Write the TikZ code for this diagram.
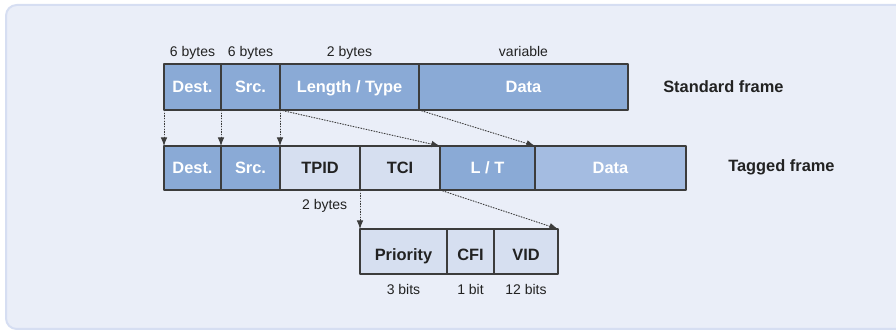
\documentclass[tikz,border=0pt]{standalone}
\usepackage{fontspec}
\setmainfont{Liberation Sans}
\usetikzlibrary{positioning,arrows.meta}
\definecolor{fdark}{HTML}{8AAAD6}
\definecolor{fmid}{HTML}{A4BCE1}
\definecolor{flight}{HTML}{D6DFF0}
\definecolor{bgfill}{HTML}{EAEEF8}
\definecolor{bgline}{HTML}{D6DEF2}
\definecolor{edge}{HTML}{3C3C3C}
\definecolor{ink}{HTML}{222222}

\begin{document}
\begin{tikzpicture}[x=0.75pt,y=-0.75pt,line join=round,>={Latex[length=6.5pt,width=5pt]},
  fld/.style={draw=edge,line width=0.8pt,inner sep=0pt,outer sep=0pt,
    font=\fontsize{12.3}{14}\selectfont\bfseries,text height=8.8pt,text depth=0pt},
  dk/.style={fld,fill=fdark,text=white},
  md/.style={fld,fill=fmid,text=white},
  lt/.style={fld,fill=flight,text=ink},
  std/.style={minimum height=34.5pt},
  tag/.style={minimum height=33pt},
  sub/.style={minimum height=33.75pt,text height=13pt},
  sz/.style={font=\fontsize{10.5}{12}\selectfont,text=ink,anchor=base,inner sep=0pt},
  ttl/.style={font=\fontsize{12.3}{14}\selectfont\bfseries,text=ink,anchor=west,
    inner sep=0pt,text depth=0pt},
  mv/.style={->,draw=edge,fill=edge,line width=0.7pt,dash pattern=on 0.9pt off 1.1pt}]
\useasboundingbox (0,0) rectangle (896,331);
\filldraw[fill=bgfill,draw=bgline,line width=1.5pt,rounded corners=8pt](6,5) rectangle (930,329);

% standard frame
\node[dk,std,minimum width=42.75pt,anchor=north west] (sdest) at (164,64) {Dest.};
\node[dk,std,minimum width=44.25pt,right=0pt of sdest] (ssrc) {Src.};
\node[dk,std,minimum width=104.25pt,right=0pt of ssrc] (slt) {Length / Type};
\node[dk,std,minimum width=156.75pt,right=0pt of slt] (sdata) {Data};

\node[sz] (wdest) at ([yshift=5.25pt]sdest.north) {6 bytes};
\node[sz] (wsrc) at ([yshift=5.25pt]ssrc.north) {6 bytes};
\node[sz] (wlt) at ([yshift=5.25pt]slt.north) {2 bytes};
\node[sz] (wdata) at ([yshift=5.25pt]sdata.north) {variable};
\node[ttl] (tstd) at ([xshift=26.25pt]sdata.east) {Standard frame};

% tagged frame
\node[dk,tag,minimum width=42.75pt,anchor=north west] (tdest) at (164,146) {Dest.};
\node[dk,tag,minimum width=44.25pt,right=0pt of tdest] (tsrc) {Src.};
\node[lt,tag,minimum width=60pt,right=0pt of tsrc] (ttpid) {TPID};
\node[lt,tag,minimum width=60pt,right=0pt of ttpid] (ttci) {TCI};
\node[dk,tag,minimum width=71.25pt,right=0pt of ttci] (tlt) {L / T};
\node[md,tag,minimum width=113.25pt,right=0pt of tlt] (tdata) {Data};

\node[sz] (wtpid) at ([xshift=3.5pt,yshift=-14.75pt]ttpid.south) {2 bytes};
\node[ttl] (ttag) at ([xshift=31.5pt,yshift=1.5pt]tdata.east) {Tagged frame};

% tag control info
\node[lt,sub,minimum width=65.25pt,anchor=north west] (ppri) at (360,229) {Priority};
\node[lt,sub,minimum width=35.25pt,right=0pt of ppri] (pcfi) {CFI};
\node[lt,sub,minimum width=48pt,right=0pt of pcfi] (pvid) {VID};

\node[sz] (wpri) at ([yshift=-15.75pt]ppri.south) {3 bits};
\node[sz] (wcfi) at ([yshift=-15.75pt]pcfi.south) {1 bit};
\node[sz] (wvid) at ([yshift=-15.75pt]pvid.south) {12 bits};

\draw[mv] (sdest.south west) -- (tdest.north west);
\draw[mv] (ssrc.south west) -- (tsrc.north west);
\draw[mv] (slt.south west) -- (ttpid.north west);
\draw[mv] (slt.south west) -- (tlt.north west);
\draw[mv] (sdata.south west) -- (tlt.north east);
\draw[mv] (ttci.south west) -- (ppri.north west);
\draw[mv] (tlt.south west) -- (pvid.north east);
\end{tikzpicture}
\end{document}
